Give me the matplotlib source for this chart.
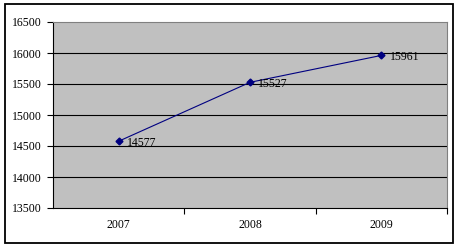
import matplotlib
matplotlib.use("Agg")
import matplotlib.pyplot as plt
from matplotlib.patches import Rectangle

years = ["2007", "2008", "2009"]
values = [14577, 15527, 15961]
yticks = [13500, 14000, 14500, 15000, 15500, 16000, 16500]

plt.rcParams['font.family'] = ['Liberation Serif', 'DejaVu Serif']
fig = plt.figure(figsize=(4.62, 2.48), dpi=100)
fig.patches.append(Rectangle((5/462, 1-243/248), 448/462, 239/248, transform=fig.transFigure,
                             fill=False, edgecolor='black', linewidth=1.3))
ax = fig.add_axes([53/462, 1-208/248, 394/462, 186/248])
ax.set_facecolor('#C0C0C0')
x = list(range(len(years)))
ax.plot(x, values, color='#000080', linewidth=0.8, marker='D', markersize=3.5,
        markerfacecolor='#000080', markeredgecolor='#000080')
for xi, v in zip(x, values):
    ax.annotate(str(v), (xi, v), xytext=(6, -1), textcoords='offset points',
                ha='left', va='center', fontsize=8.5, color='black')
ax.set_xlim(-0.5, 2.5)
ax.set_ylim(13500, 16500)
ax.set_yticks(yticks)
ax.set_yticklabels([str(t) for t in yticks], fontsize=8.5)
ax.set_xticks(x)
ax.set_xticklabels(years, fontsize=8.5)
ax.set_xticks([0.5, 1.5, 2.5], minor=True)
ax.tick_params(axis='x', which='major', length=0, pad=8)
ax.tick_params(axis='x', which='minor', length=4, direction='out', width=0.8)
ax.tick_params(axis='y', length=4, direction='out', width=0.8, pad=4)
for y in yticks[1:-1]:
    ax.axhline(y, color='black', linewidth=0.8, zorder=1)
ax.spines['left'].set_color('black')
ax.spines['bottom'].set_color('black')
ax.spines['top'].set_color('#808080')
ax.spines['right'].set_color('#808080')
for s in ax.spines.values():
    s.set_linewidth(0.8)
fig.savefig('out.png', dpi=100)
